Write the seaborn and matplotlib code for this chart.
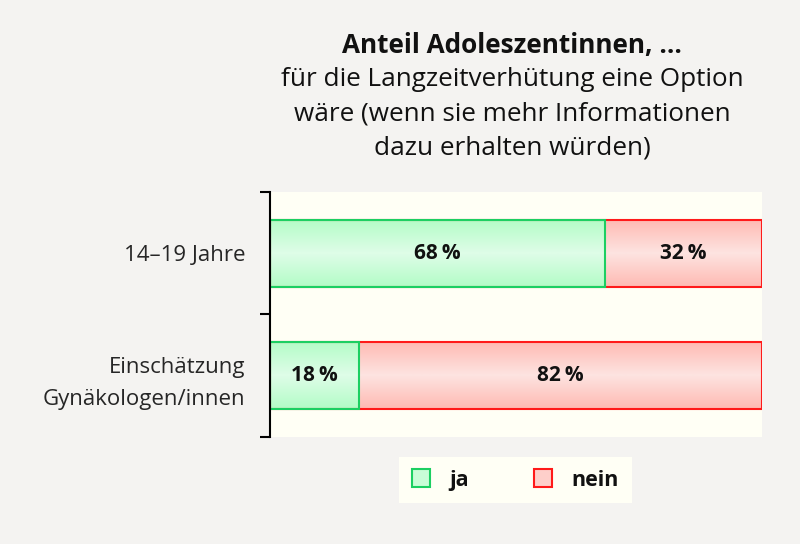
import numpy as np
import pandas as pd
import seaborn as sns
import matplotlib.pyplot as plt
from matplotlib.patches import Patch
from matplotlib.colors import LinearSegmentedColormap

# Daten
gruppen = ['14–19 Jahre', 'Einschätzung\nGynäkologen/innen']
ja = [68, 18]
nein = [32, 82]
legende = ['ja', 'nein']
titel = 'Anteil Adoleszentinnen, ...'
untertitel = ['für die Langzeitverhütung eine Option',
              'wäre (wenn sie mehr Informationen',
              'dazu erhalten würden)']

sns.set_theme(style='white')
plt.rcParams['font.family'] = ['Open Sans', 'DejaVu Sans']
plt.rcParams['text.color'] = '#111111'

df = pd.DataFrame({'gruppe': gruppen, 'ja': ja, 'nein': nein})
df['gesamt'] = df['ja'] + df['nein']

gruen_rand, rot_rand = '#1ccf62', '#ff1a1a'
gruen_cmap = LinearSegmentedColormap.from_list('g', ['#b3fcc7', '#defde7'])
rot_cmap = LinearSegmentedColormap.from_list('r', ['#ffbab3', '#fde3e0'])

fig = plt.figure(figsize=(8, 5.44), dpi=100, facecolor='#f4f3f1')
ax = fig.add_axes([0.3375, 0.1967, 0.615, 0.4504])
ax.set_facecolor('#fffff5')

# nein als Gesamtbalken, ja darüber
sns.barplot(data=df, y='gruppe', x='gesamt', orient='h', color=rot_cmap(0.0),
            saturation=1, edgecolor=rot_rand, linewidth=1.5, width=0.55,
            errorbar=None, ax=ax)
sns.barplot(data=df, y='gruppe', x='ja', orient='h', color=gruen_cmap(0.0),
            saturation=1, edgecolor=gruen_rand, linewidth=1.5, width=0.55,
            errorbar=None, ax=ax)

# Verlauf in den Balken
verlauf = (1 - np.abs(np.linspace(-1, 1, 60))).reshape(-1, 1)
n = len(gruppen)
for k, p in enumerate(ax.patches):
    cmap = rot_cmap if k < n else gruen_cmap
    x0, y0 = p.get_x(), p.get_y()
    w, h = p.get_width(), p.get_height()
    ax.imshow(verlauf, cmap=cmap, aspect='auto', interpolation='bilinear',
              extent=[x0, x0 + w, y0 + h, y0], zorder=0.5 + 0.1 * (k >= n))
    p.set_facecolor('none')

ax.set_xlim(0, 100)
ax.set_ylim(1.5, -0.5)

# Beschriftung der Segmente
for i in range(n):
    ax.text(ja[i] / 2, i, f'{ja[i]}\u2009%', ha='center', va='center',
            fontsize=15, weight='bold', zorder=3)
    ax.text(ja[i] + nein[i] / 2, i, f'{nein[i]}\u2009%', ha='center', va='center',
            fontsize=15, weight='bold', zorder=3)

# Achsen
for s in ['top', 'right', 'bottom']:
    ax.spines[s].set_visible(False)
ax.spines['left'].set_color('black')
ax.spines['left'].set_linewidth(1.5)
ax.set_xticks([])
ax.set_xlabel('')
ax.set_ylabel('')
ax.set_yticks(range(n))
ax.set_yticklabels(gruppen, fontsize=16, linespacing=1.65)
ax.set_yticks([-0.5, 0.5, 1.5], minor=True)
ax.tick_params(axis='y', which='major', length=0, pad=18)
ax.tick_params(axis='y', which='minor', left=True, length=7.5, width=1.5, color='black')

# Titel
fig.text(0.64, 1 - 45 / 544, titel, ha='center', va='center', fontsize=18.8, weight='bold')
for j, zeile in enumerate(untertitel):
    fig.text(0.64, 1 - (80 + 34 * j) / 544, zeile, ha='center', va='center', fontsize=18.8)

# Legende
handles = [Patch(facecolor=gruen_cmap(0.5), edgecolor=gruen_rand, linewidth=1.5),
           Patch(facecolor=rot_cmap(0.5), edgecolor=rot_rand, linewidth=1.5)]
leg = fig.legend(handles, legende, loc='center', bbox_to_anchor=(0.644, 1 - 480 / 544),
                 ncol=2, frameon=True, facecolor='#fffff5', edgecolor='none', fancybox=False,
                 prop={'weight': 'bold', 'size': 15.5}, handlelength=0.85, handleheight=0.85,
                 columnspacing=3.0, handletextpad=0.9, borderpad=0.6, borderaxespad=0)
leg.get_frame().set_alpha(1)
leg.get_frame().set_linewidth(0)

fig.savefig('out.png', dpi=100, facecolor=fig.get_facecolor())
